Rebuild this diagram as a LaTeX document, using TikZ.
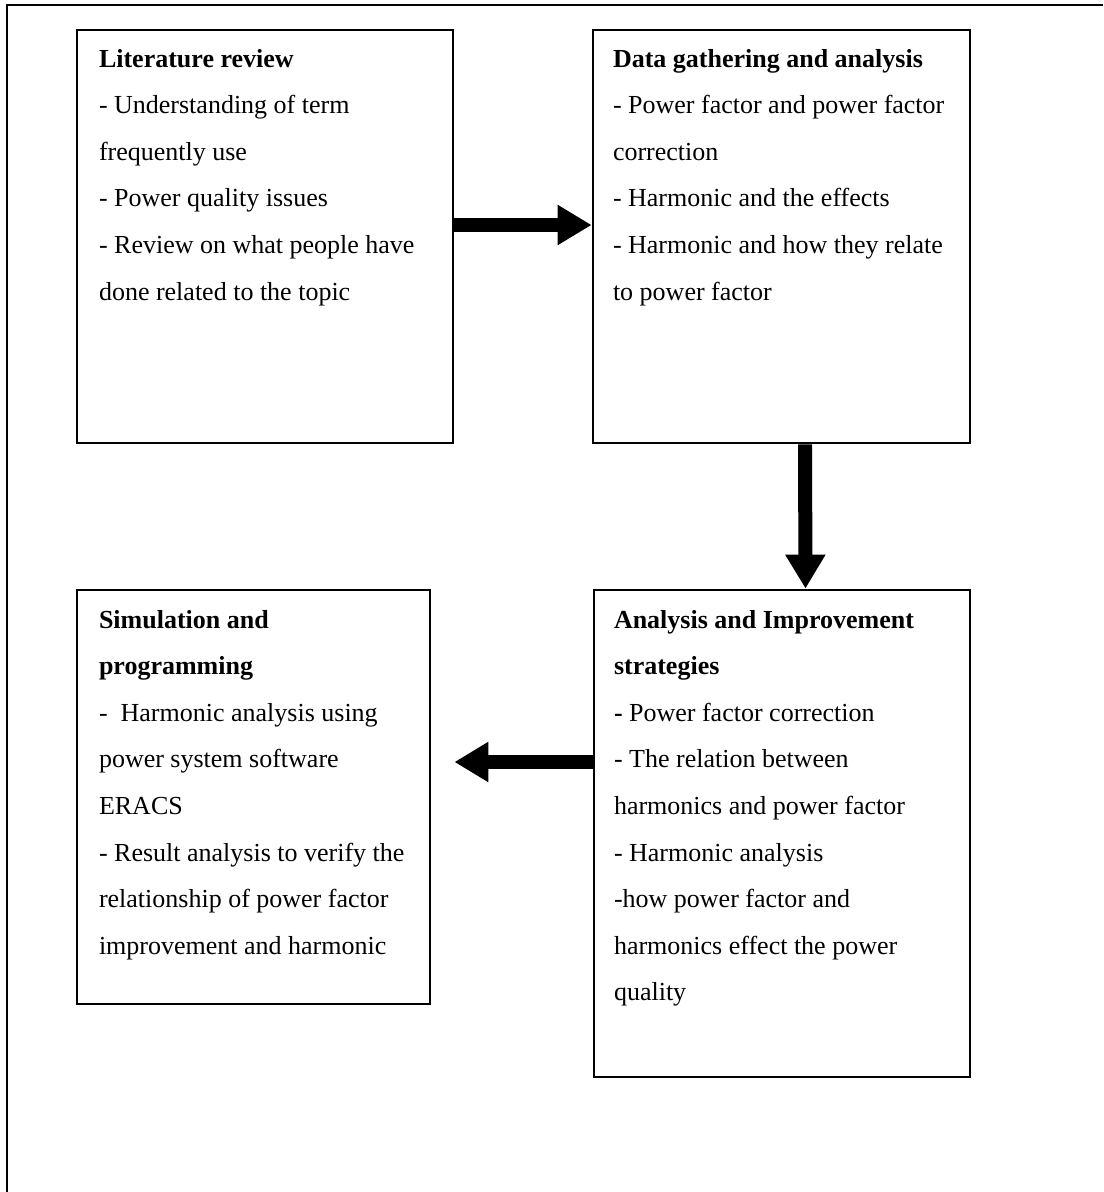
\documentclass[tikz,border=0pt]{standalone}
\usepackage{fontspec}
\setmainfont{Liberation Serif}
\usepackage{tikz}
\usetikzlibrary{arrows.meta,positioning}

\begin{document}
\begin{tikzpicture}[x=0.5pt, y=-0.5pt,
  stagebox/.style={draw=black, line width=1.4pt, inner sep=0pt, minimum width=#1},
  stagetext/.style={anchor=north west, inner sep=0pt, align=left, font=\fontsize{13}{23.3}\selectfont},
  arr/.style={-{Triangle[length=17pt, width=19pt]}, line width=7pt, draw=black}]
\useasboundingbox (0,0) rectangle (1103,1192);
\draw[line width=1.2pt] (7,1192) -- (7,5) -- (1103,5);
\node[stagebox=188pt,   minimum height=206.5pt] (lit)  at (265,236.5)   {};
\node[stagebox=188.5pt, minimum height=206.5pt] (data) at (781.5,236.5) {};
\node[stagebox=176.5pt, minimum height=207pt]   (sim)  at (253.5,797)   {};
\node[stagebox=188pt,   minimum height=243.5pt] (ana)  at (782,833.5)   {};
\node[stagetext] (littxt) at ([shift={(11.5pt,-10pt)}]lit.north west)
  {\textbf{Literature review}\\
   - Understanding of term\\
   frequently use\\
   - Power quality issues\\
   - Review on what people have\\
   done related to the topic};
\node[stagetext] (datatxt) at ([shift={(10.5pt,-10pt)}]data.north west)
  {\textbf{Data gathering and analysis}\\
   - Power factor and power factor\\
   correction\\
   - Harmonic and the effects\\
   - Harmonic and how they relate\\
   to power factor};
\node[stagetext] (simtxt) at ([shift={(11.5pt,-10.5pt)}]sim.north west)
  {\textbf{Simulation and}\\
   \textbf{programming}\\
   -\ \ Harmonic analysis using\\
   power system software\\
   ERACS\\
   - Result analysis to verify the\\
   relationship of power factor\\
   improvement and harmonic};
\node[stagetext] (anatxt) at ([shift={(10.5pt,-10.5pt)}]ana.north west)
  {\textbf{Analysis and Improvement}\\
   \textbf{strategies}\\
   \textbf{-} Power factor correction\\
   - The relation between\\
   harmonics and power factor\\
   - Harmonic analysis\\
   -how power factor and\\
   harmonics effect the power\\
   quality};
\draw[arr] ([yshift=5.75pt]lit.east) -- ([yshift=5.75pt]data.west);
\draw[arr] ([xshift=11.75pt]data.south) -- ([xshift=11.75pt]ana.north);
\draw[arr] ([yshift=35.75pt]ana.west) -- ([shift={(11.5pt,17.5pt)}]sim.east);
\end{tikzpicture}
\end{document}
